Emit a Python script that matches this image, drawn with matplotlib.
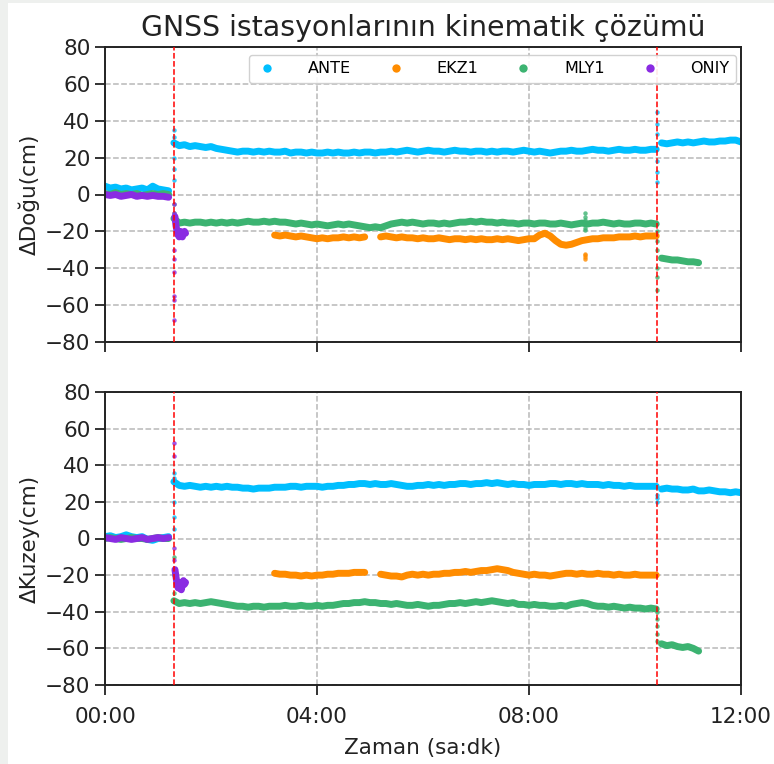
import numpy as np
import matplotlib
matplotlib.use("Agg")
import matplotlib.pyplot as plt
from matplotlib.lines import Line2D
from matplotlib.patches import Rectangle

# ---------------- data (hours since 00:00, displacement in cm) ----------------
stations = ["ANTE", "EKZ1", "MLY1", "ONIY"]
colors = {"ANTE": "#00bfff", "EKZ1": "#ff8c00", "MLY1": "#3cb371", "ONIY": "#8a2be2"}

event_times = [1.30, 10.42]           # vertical markers (01:18, 10:25)
xtick_hours = [0, 4, 8, 12]
xtick_labels = ["00:00", "04:00", "08:00", "12:00"]
ytick_values = [-80, -60, -40, -20, 0, 20, 40, 60, 80]

STEP = 0.1        # 6-minute epochs
FINE = 0.02       # short ONIY record after the first event

# segment start times
T_PRE, T_MID, T_POST = 0.0, 1.3, 10.5
T_EKZ_A, T_EKZ_B = 3.2, 5.2
T_ONIY_POST = 1.32
T_SPIKE = 9.05

# ---- East component ----
ante_e_pre = [4.5, 3.5, 4.0, 3.0, 3.5, 2.5, 3.0, 3.5, 2.5, 4.5, 3.0, 2.5, 2.0]
ante_e_mid = [28.0, 26.5, 27.0, 26.0, 26.5, 26.0, 25.5, 26.0, 25.0, 24.5,
              24.0, 23.5, 23.0, 23.5, 23.5, 23.0, 23.5, 23.0, 23.5, 23.0,
              23.0, 23.5, 22.5, 23.0, 23.0, 22.5, 23.0, 22.5, 22.5, 23.0,
              22.5, 23.0, 22.5, 22.5, 23.0, 22.5, 23.0, 23.0, 22.5, 23.0,
              23.0, 23.5, 23.0, 23.5, 24.0, 23.5, 23.0, 23.5, 24.0, 23.5,
              23.5, 23.0, 23.5, 24.0, 23.5, 23.5, 23.0, 23.5, 23.5, 23.0,
              23.5, 23.0, 23.5, 23.5, 23.0, 23.5, 24.0, 23.5, 23.0, 23.5,
              23.0, 22.5, 23.0, 23.5, 23.5, 24.0, 23.5, 23.5, 24.0, 24.5,
              24.0, 24.0, 23.5, 24.0, 24.5, 24.0, 24.0, 24.5, 24.0, 24.0,
              24.5, 24.5]
ante_e_post = [28.0, 27.5, 28.0, 28.5, 28.0, 28.5, 28.0, 28.5, 29.0, 28.5,
               28.5, 29.0, 29.0, 29.5, 29.5, 28.5]
ante_e_jump1 = [8, 14, 20, 31, 35]
ante_e_jump2 = [45, 38, 33, 18, 12, 7]

mly1_e_pre = [0.5, 0.0, 1.0, 0.0, 0.5, 0.0, 0.5, -0.5, 0.0, 0.5, 0.0, 0.5, 0.0]
mly1_e_mid = [-13.0, -15.5, -15.0, -15.5, -15.0, -15.0, -15.5, -15.0, -15.5, -15.0,
              -15.5, -15.0, -15.5, -15.0, -14.5, -15.0, -15.0, -14.5, -15.0, -14.5,
              -15.0, -15.0, -15.5, -16.0, -15.5, -16.0, -16.5, -16.0, -16.5, -17.0,
              -16.5, -16.0, -16.5, -16.0, -16.5, -17.0, -17.5, -18.0, -17.5, -18.0,
              -17.0, -16.0, -15.5, -15.0, -15.5, -15.0, -15.5, -16.0, -15.5, -15.5,
              -16.0, -15.5, -16.0, -15.5, -15.0, -15.0, -14.5, -15.0, -14.5, -15.0,
              -15.0, -15.5, -15.0, -15.5, -15.5, -16.0, -15.5, -15.5, -16.0, -15.5,
              -15.5, -16.0, -16.0, -15.5, -16.0, -16.5, -16.0, -15.5, -16.0, -15.5,
              -15.5, -15.0, -15.5, -16.0, -15.5, -16.0, -16.0, -15.5, -15.5, -16.0,
              -15.5, -16.0]
mly1_e_post = [-34.5, -35.0, -35.5, -35.5, -36.0, -36.5, -36.5, -37.0]
mly1_e_jump1 = [-5, -10, -13]
mly1_e_jump2 = [-20, -25, -30, -40, -45, -52]
mly1_e_spike = [-10, -12, -14, -18, -19]

ekz1_e_a = [-22.0, -22.5, -22.0, -22.5, -23.0, -22.5, -23.0, -23.5, -24.0, -23.5,
            -24.0, -23.5, -23.5, -23.0, -23.5, -23.0, -23.5, -23.0]
ekz1_e_b = [-23.0, -22.5, -23.0, -23.5, -23.0, -23.5, -23.5, -24.0, -23.5, -24.0,
            -24.0, -23.5, -24.0, -24.5, -24.0, -24.0, -24.5, -24.0, -24.5, -24.0,
            -24.5, -24.5, -24.0, -24.5, -24.0, -24.5, -25.0, -24.5, -24.0, -24.0,
            -22.0, -21.0, -22.5, -25.0, -27.0, -27.5, -27.0, -26.0, -25.0, -24.5,
            -24.0, -24.0, -23.5, -23.5, -23.5, -23.0, -23.0, -23.0, -22.5, -23.0,
            -22.5, -22.5, -22.5]
ekz1_e_spike = [-32, -33, -34, -35]

oniy_e_pre = [0.0, -0.5, 0.0, -1.0, -0.5, 0.0, -1.0, -0.5, -1.0, -0.5, -1.0, -1.0, -1.5]
oniy_e_post = [-12, -17, -20, -22, -23, -20, -22, -23, -21, -20, -21]
oniy_e_jump1 = [-5, -10, -30, -35, -42, -55, -57, -68]

# ---- North component ----
ante_n_pre = [1.0, 1.5, 0.5, 1.0, 2.0, 1.0, 0.5, 1.0, -0.5, -1.0, 0.0, 0.5, 1.0]
ante_n_mid = [31.0, 29.0, 28.5, 29.0, 28.5, 28.0, 28.5, 28.0, 28.5, 28.0,
              28.5, 28.0, 28.0, 27.5, 27.5, 27.0, 27.5, 27.5, 27.5, 28.0,
              28.0, 28.0, 28.5, 28.5, 28.0, 28.5, 28.5, 28.5, 28.0, 28.5,
              28.5, 29.0, 29.0, 29.5, 29.5, 30.0, 30.0, 29.5, 30.0, 29.5,
              29.5, 30.0, 29.5, 29.0, 28.5, 28.5, 29.0, 29.0, 29.5, 29.0,
              29.5, 29.0, 29.5, 29.5, 30.0, 30.0, 29.5, 30.0, 30.0, 30.5,
              30.0, 30.5, 30.0, 29.5, 30.0, 29.5, 29.5, 29.0, 29.5, 29.5,
              29.5, 30.0, 30.0, 29.5, 30.0, 30.0, 29.5, 30.0, 29.5, 29.5,
              29.5, 29.0, 29.5, 29.0, 29.0, 28.5, 29.0, 28.5, 28.5, 28.5,
              28.5, 28.5]
ante_n_post = [27.0, 27.5, 27.0, 27.0, 26.5, 26.5, 27.0, 26.0, 26.0, 26.5,
               26.0, 25.5, 25.5, 25.0, 25.5, 25.0]
ante_n_jump1 = [5, 12, 20, 33, 36]
ante_n_jump2 = [20, 22, 24]

mly1_n_pre = [0.0, 0.5, 0.0, -0.5, 0.0, 0.5, 0.0, 0.0, -0.5, 0.0, 0.5, 0.0, 0.0]
mly1_n_mid = [-34.0, -35.5, -35.0, -35.5, -35.0, -35.5, -35.0, -34.5, -35.0, -35.5,
              -36.0, -36.5, -37.0, -37.0, -37.5, -37.0, -37.0, -37.5, -37.0, -37.0,
              -37.0, -36.5, -37.0, -37.0, -36.5, -37.0, -37.0, -36.5, -37.0, -36.5,
              -36.5, -36.0, -35.5, -35.5, -35.0, -35.0, -34.5, -35.0, -35.0, -35.5,
              -35.5, -36.0, -35.5, -36.0, -36.5, -36.5, -36.0, -36.5, -37.0, -36.5,
              -36.5, -36.0, -35.5, -35.5, -35.0, -35.5, -35.0, -34.5, -35.0, -34.5,
              -34.0, -34.5, -35.0, -35.5, -35.0, -36.0, -36.0, -36.5, -36.0, -36.5,
              -36.5, -37.0, -37.0, -36.5, -37.0, -36.0, -35.5, -35.0, -35.5, -36.5,
              -37.0, -37.0, -37.5, -37.0, -37.5, -38.0, -37.5, -38.0, -38.0, -38.5,
              -38.0, -38.5]
mly1_n_post = [-57.5, -58.5, -58.0, -59.0, -59.5, -59.0, -60.0, -61.5]
mly1_n_jump1 = [-10, -20, -30]
mly1_n_jump2 = [-40, -44, -48, -52, -56]

ekz1_n_a = [-19.0, -19.5, -19.5, -20.0, -20.0, -20.5, -20.0, -20.5, -20.0, -20.0,
            -19.5, -19.5, -19.0, -19.0, -19.0, -18.5, -18.5, -18.5]
ekz1_n_b = [-19.5, -20.0, -20.5, -20.5, -21.0, -20.0, -19.5, -20.0, -19.5, -20.0,
            -19.5, -19.5, -19.0, -19.0, -18.5, -18.5, -18.0, -18.5, -18.0, -17.5,
            -17.5, -17.0, -16.5, -17.0, -17.5, -18.5, -19.0, -19.5, -20.0, -19.5,
            -20.0, -20.0, -20.5, -20.0, -19.5, -19.0, -19.0, -19.5, -19.0, -19.5,
            -19.5, -19.0, -19.5, -19.5, -20.0, -19.5, -20.0, -20.0, -19.5, -20.0,
            -20.0, -20.0, -20.0]

oniy_n_pre = [0.5, 0.0, -0.5, 0.5, 0.0, -0.5, 0.0, 0.5, -0.5, 0.0, 0.5, 0.0, 0.5]
oniy_n_post = [-17, -21, -25, -27, -24, -25, -28, -25, -23, -25, -24]
oniy_n_jump1 = [-5, -12, 45, 52]


def epochs(start, values, step=STEP):
    return start + step * np.arange(len(values))


# (segments, isolated points) per station and component
east = {
    "ANTE": ([(T_PRE, ante_e_pre, STEP), (T_MID, ante_e_mid, STEP), (T_POST, ante_e_post, STEP)],
             [(event_times[0], ante_e_jump1), (event_times[1], ante_e_jump2)]),
    "EKZ1": ([(T_EKZ_A, ekz1_e_a, STEP), (T_EKZ_B, ekz1_e_b, STEP)],
             [(T_SPIKE, ekz1_e_spike)]),
    "MLY1": ([(T_PRE, mly1_e_pre, STEP), (T_MID, mly1_e_mid, STEP), (T_POST, mly1_e_post, STEP)],
             [(event_times[0], mly1_e_jump1), (event_times[1], mly1_e_jump2), (T_SPIKE, mly1_e_spike)]),
    "ONIY": ([(T_PRE, oniy_e_pre, STEP), (T_ONIY_POST, oniy_e_post, FINE)],
             [(event_times[0], oniy_e_jump1)]),
}
north = {
    "ANTE": ([(T_PRE, ante_n_pre, STEP), (T_MID, ante_n_mid, STEP), (T_POST, ante_n_post, STEP)],
             [(event_times[0], ante_n_jump1), (event_times[1], ante_n_jump2)]),
    "EKZ1": ([(T_EKZ_A, ekz1_n_a, STEP), (T_EKZ_B, ekz1_n_b, STEP)], []),
    "MLY1": ([(T_PRE, mly1_n_pre, STEP), (T_MID, mly1_n_mid, STEP), (T_POST, mly1_n_post, STEP)],
             [(event_times[0], mly1_n_jump1), (event_times[1], mly1_n_jump2)]),
    "ONIY": ([(T_PRE, oniy_n_pre, STEP), (T_ONIY_POST, oniy_n_post, FINE)],
             [(event_times[0], oniy_n_jump1)]),
}

# ---------------- figure ----------------
W, H = 774, 764
fig = plt.figure(figsize=(W / 100, H / 100), dpi=100)
fig.patch.set_facecolor("#eef0ee")
fig.add_artist(Rectangle((8 / W, 0), 1, 1 - 3 / H, transform=fig.transFigure,
                         facecolor="white", edgecolor="none", zorder=-5))

left, right = 105 / W, 741 / W
ax_top = fig.add_axes([left, 1 - 342 / H, right - left, 295 / H])
ax_bot = fig.add_axes([left, 1 - 685 / H, right - left, 293 / H], sharex=ax_top)

TICK_FS = 15.5
LW = 5.0
TXT = "#222222"


def draw(ax, comp):
    for name in stations:
        segs, pts = comp[name]
        c = colors[name]
        for start, vals, step in segs:
            ax.plot(epochs(start, vals, step), vals, color=c, lw=LW,
                    solid_capstyle="round", solid_joinstyle="round", zorder=2)
        for t, vals in pts:
            ax.plot(np.full(len(vals), t), vals, ls="none", marker="o", ms=3.2,
                    mec="none", color=c, alpha=0.8, zorder=2)
    for t in event_times:
        ax.axvline(t, color="red", ls="--", lw=1.1, zorder=4)
    ax.set_ylim(-80, 80)
    ax.set_yticks(ytick_values)
    ax.set_xlim(xtick_hours[0], xtick_hours[-1])
    ax.set_xticks(xtick_hours)
    ax.grid(True, ls="--", color="#b8b8b8", lw=1.1)
    ax.set_axisbelow(True)
    for sp in ax.spines.values():
        sp.set_linewidth(1.4)
        sp.set_color(TXT)
    ax.tick_params(length=7, width=1.3, labelsize=TICK_FS, color=TXT,
                   labelcolor=TXT)


draw(ax_top, east)
draw(ax_bot, north)

ax_top.tick_params(labelbottom=False)
ax_bot.set_xticklabels(xtick_labels)
ax_bot.tick_params(axis="x", pad=9)

ax_top.set_ylabel("ΔDoğu(cm)", fontsize=TICK_FS, color=TXT)
ax_bot.set_ylabel("ΔKuzey(cm)", fontsize=TICK_FS, color=TXT)
ax_bot.set_xlabel("Zaman (sa:dk)", fontsize=TICK_FS, color=TXT, labelpad=8)
ax_top.set_title("GNSS istasyonlarının kinematik çözümü", fontsize=20.4,
                 color=TXT, pad=8)

handles = [Line2D([], [], ls="none", marker="o", ms=6, mec="none", color=colors[n])
           for n in stations]
ax_top.legend(handles, stations, ncol=4, mode="expand", loc="center",
              bbox_to_anchor=(0.226, 0.878, 0.766, 0.095), borderaxespad=0,
              fontsize=11.5, handletextpad=1.8, handlelength=1.5,
              framealpha=0.9, edgecolor="#cccccc")

fig.savefig("out.png", dpi=100, facecolor=fig.get_facecolor())
